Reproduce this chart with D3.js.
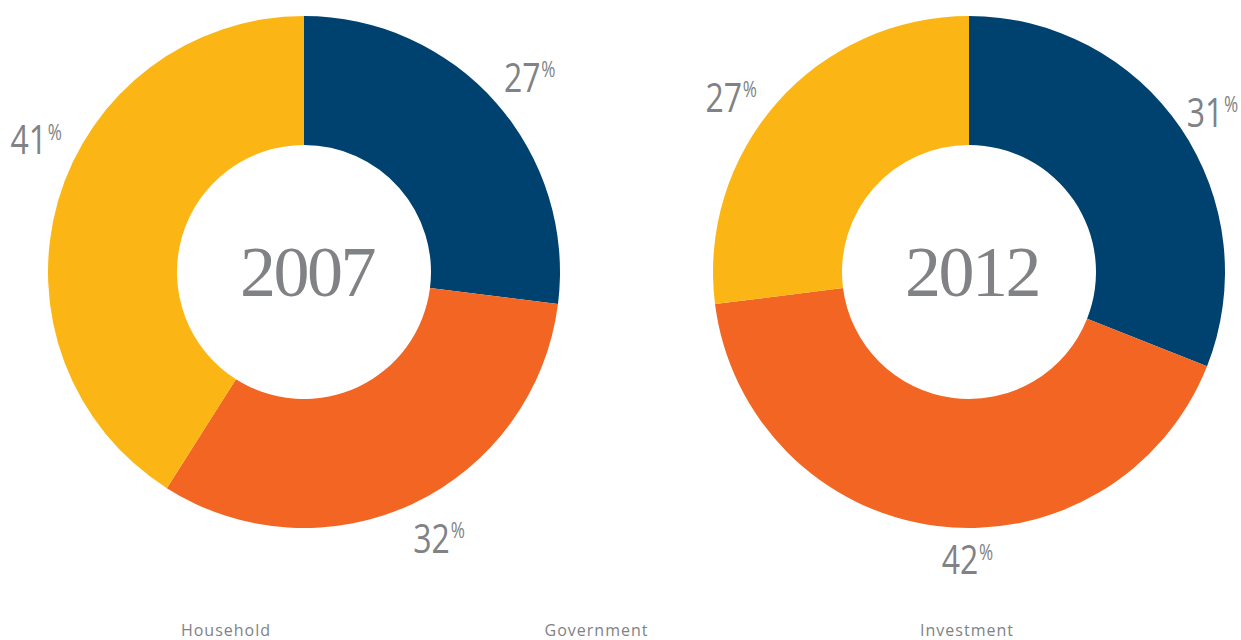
<!DOCTYPE html>
<html>
<head>
<meta charset="utf-8">
<script src="https://cdn.jsdelivr.net/npm/d3@7"></script>
<style>
  html, body { margin: 0; padding: 0; background: #ffffff; }
  svg { display: block; }
</style>
</head>
<body>
<svg id="chart" width="1241" height="640"></svg>
<script>
// Share of spending by sector, two years
const categories = ["Investment", "Government", "Household"];
const years = ["2007", "2012"];
const values2007 = [27, 32, 41];
const values2012 = [31, 42, 27];
const legendLabels = ["Household", "Government", "Investment"];
const colors = ["#00426f", "#f26522", "#fbb615"];

const svg = d3.select("#chart");

const color = d3.scaleOrdinal().domain(categories).range(colors);

const outerR = 256, innerR = 127, labelR = 295;
const centers = d3.scalePoint().domain(years).range([304, 969]);
const cy = 272;

// hand nudges for the outside labels so they clear the edges
const labelNudge = {
  "2007": [[-3, 0], [2, -1], [8, -50]],
  "2012": [[-8, 6], [28, -5], [-24, 20]]
};

const pie = d3.pie().sort(null).value(d => d.value);
const arc = d3.arc().innerRadius(innerR).outerRadius(outerR);
const labelArc = d3.arc().innerRadius(labelR).outerRadius(labelR);

const series = [
  { year: "2007", values: values2007 },
  { year: "2012", values: values2012 }
];

const narrow = 0.78; // horizontal squeeze for a semi-condensed look

series.forEach(s => {
  const data = categories.map((c, i) => ({ cat: c, value: s.values[i], i }));
  const g = svg.append("g")
    .attr("transform", `translate(${centers(s.year)},${cy})`);

  g.selectAll("path.slice")
    .data(pie(data))
    .join("path")
    .attr("class", "slice")
    .attr("d", arc)
    .attr("fill", d => color(d.data.cat));

  // percentage labels outside the ring
  const lbl = g.selectAll("g.pct")
    .data(pie(data))
    .join("g")
    .attr("class", "pct")
    .attr("transform", d => {
      const [x, y] = labelArc.centroid(d);
      const [nx, ny] = labelNudge[s.year][d.data.i];
      return `translate(${x + nx},${y + ny}) scale(${narrow},1)`;
    });

  lbl.append("text")
    .attr("class", "num")
    .attr("text-anchor", "middle")
    .attr("dy", "0.36em")
    .attr("fill", "#808285")
    .style("font-family", "'Open Sans', sans-serif")
    .style("font-size", "41px")
    .text(d => d.data.value);

  lbl.each(function () {
    const gg = d3.select(this);
    const w = gg.select("text.num").node().getComputedTextLength();
    gg.append("text")
      .attr("x", w / 2 + 1)
      .attr("y", 0)
      .attr("fill", "#808285")
      .style("font-family", "'Open Sans', sans-serif")
      .style("font-size", "22px")
      .text("%");
  });

  // year in the centre
  g.append("text")
    .attr("x", 3)
    .attr("y", 0)
    .attr("dy", "0.33em")
    .attr("text-anchor", "middle")
    .attr("fill", "#808285")
    .style("font-family", "'Liberation Serif', 'DejaVu Serif', serif")
    .style("font-size", "72px")
    .style("letter-spacing", "-2.5px")
    .text(s.year);
});

// legend labels along the bottom
const legendX = d3.scalePoint().domain(legendLabels).range([226, 967]);
svg.selectAll("text.legend")
  .data(legendLabels)
  .join("text")
  .attr("class", "legend")
  .attr("x", d => legendX(d))
  .attr("y", 636)
  .attr("text-anchor", "middle")
  .attr("fill", "#808285")
  .style("font-family", "'Open Sans', sans-serif")
  .style("font-size", "16px")
  .style("letter-spacing", "1px")
  .text(d => d);
</script>
</body>
</html>
